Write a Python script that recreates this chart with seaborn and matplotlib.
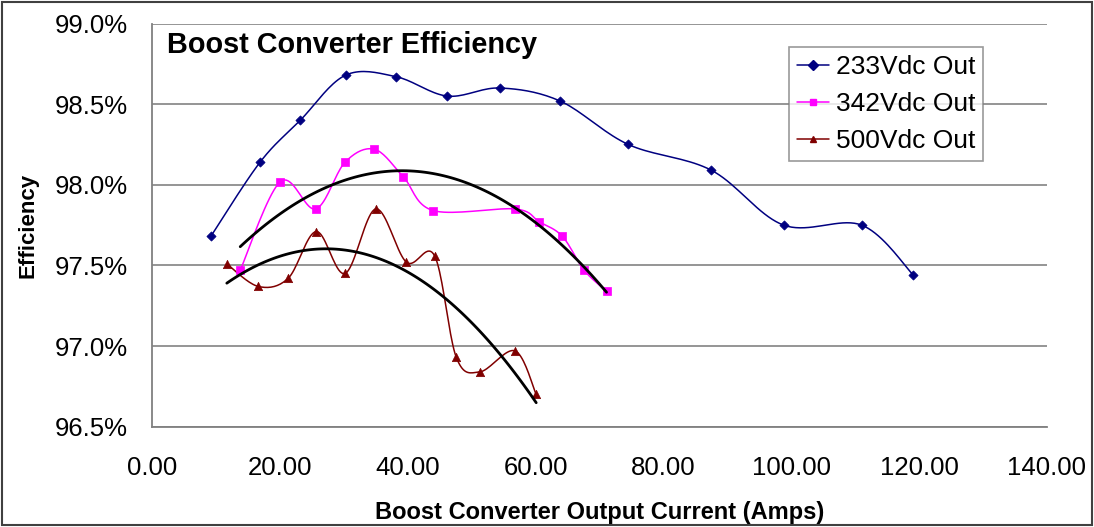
import numpy as np
import pandas as pd
import matplotlib
matplotlib.use("Agg")
import matplotlib.pyplot as plt
import seaborn as sns
from matplotlib.lines import Line2D
from matplotlib.patches import Rectangle

# values
amps_233 = [9.2, 16.9, 23.2, 30.3, 38.2, 46.2, 54.4, 63.8, 74.5, 87.5, 98.8, 111.0, 119.1]
eff_233 = [97.68, 98.14, 98.40, 98.68, 98.67, 98.55, 98.60, 98.52, 98.25, 98.09, 97.75, 97.75, 97.44]

amps_342 = [13.8, 20.1, 25.6, 30.2, 34.8, 39.3, 44.0, 56.8, 60.6, 64.2, 67.6, 71.1]
eff_342 = [97.47, 98.02, 97.85, 98.14, 98.22, 98.05, 97.84, 97.85, 97.77, 97.68, 97.47, 97.34]

amps_500 = [11.7, 16.6, 21.3, 25.7, 30.2, 35.0, 39.8, 44.2, 47.6, 51.3, 56.8, 60.1]
eff_500 = [97.51, 97.37, 97.42, 97.71, 97.45, 97.85, 97.52, 97.56, 96.93, 96.84, 96.97, 96.70]

labels = ["233Vdc Out", "342Vdc Out", "500Vdc Out"]
colors = ["#000080", "#FF00FF", "#800000"]
markers = ["D", "s", "^"]
msizes = [22, 28, 36]


def smooth(x, y, n=20):
    # excel-like smoothed line (cardinal bezier through the points)
    x = np.asarray(x, float)
    y = np.asarray(y, float)
    P = np.column_stack([x, y])
    out = []
    for i in range(len(P) - 1):
        p0 = P[i - 1] if i > 0 else P[i]
        p1 = P[i]
        p2 = P[i + 1]
        p3 = P[i + 2] if i + 2 < len(P) else P[i + 1]
        c1 = p1 + (p2 - p0) / 6
        c2 = p2 - (p3 - p1) / 6
        t = np.linspace(0, 1, n)[:, None]
        seg = (1 - t) ** 3 * p1 + 3 * (1 - t) ** 2 * t * c1 + 3 * (1 - t) * t ** 2 * c2 + t ** 3 * p2
        out.append(seg if i == 0 else seg[1:])
    s = np.vstack(out)
    return s[:, 0], s[:, 1]


sns.set_style("white")
plt.rcParams['font.family'] = ['Liberation Sans', 'DejaVu Sans']
plt.rcParams['text.color'] = 'black'
plt.rcParams['axes.labelcolor'] = 'black'
plt.rcParams['xtick.labelcolor'] = 'black'
plt.rcParams['ytick.labelcolor'] = 'black'

fig = plt.figure(figsize=(10.94, 5.27), dpi=100)
ax = fig.add_axes([152 / 1094, 1 - 426.7 / 527, (1047 - 152) / 1094, (426.7 - 23.5) / 527])

series = [(amps_233, eff_233), (amps_342, eff_342), (amps_500, eff_500)]
for (xs, ys), lab, col, mk, ms in zip(series, labels, colors, markers, msizes):
    sx, sy = smooth(xs, ys)
    sm = pd.DataFrame({"x": sx, "y": sy})
    sns.lineplot(data=sm, x="x", y="y", sort=False, estimator=None, color=col, lw=1.1, ax=ax)
    pts = pd.DataFrame({"x": xs, "y": ys})
    sns.scatterplot(data=pts, x="x", y="y", marker=mk, s=ms, color=col, edgecolor=col, linewidth=0.5, ax=ax, zorder=3)

# 2nd order polynomial trendlines
for xs, ys in [(amps_342, eff_342), (amps_500, eff_500)]:
    c = np.polyfit(xs, ys, 2)
    tx = np.linspace(min(xs), max(xs), 100)
    tr = pd.DataFrame({"x": tx, "y": np.polyval(c, tx)})
    sns.lineplot(data=tr, x="x", y="y", color="black", lw=2, ax=ax, zorder=4)

ax.set_xlim(0, 140)
ax.set_ylim(96.5, 99.0)
ax.set_xticks(np.arange(0, 141, 20))
ax.set_xticklabels([f"{v:.2f}" for v in np.arange(0, 141, 20)])
yt = np.arange(96.5, 99.01, 0.5)
ax.set_yticks(yt)
ax.set_yticklabels([f"{v:.1f}%" for v in yt])
ax.tick_params(axis="both", labelsize=18.5, direction="out", width=1.2, color="#808080")
ax.tick_params(axis="y", length=7.2, pad=10)
ax.tick_params(axis="x", length=6, pad=15)
ax.yaxis.grid(True, color="#8c8c8c", lw=1.3)
ax.xaxis.grid(False)
for side in ["top", "right"]:
    ax.spines[side].set_visible(False)
for side in ["left", "bottom"]:
    ax.spines[side].set_color("#808080")
    ax.spines[side].set_linewidth(1.3)

ax.set_xlabel("Boost Converter Output Current (Amps)", fontsize=17, fontweight="bold", labelpad=15)
ax.set_ylabel("Efficiency", fontsize=16, fontweight="bold", labelpad=12)
ax.text(15 / 895, (426.7 - 53.3) / 403.2, "Boost Converter Efficiency", transform=ax.transAxes, fontsize=20.8,
        fontweight="bold", va="baseline", ha="left")

handles = [Line2D([], [], color=c, marker=m, markersize=5, lw=1.1) for c, m in zip(colors, markers)]
leg = ax.legend(handles, labels, loc="upper left", bbox_to_anchor=((789 - 152) / 895, 1 - (47 - 23.5) / 403.2),
                fontsize=19, frameon=True, fancybox=False, edgecolor="#808080", handlelength=1.2,
                handletextpad=0.27, borderpad=0.3, labelspacing=0.5, borderaxespad=0)
leg.get_frame().set_linewidth(1.2)

fig.patches.append(Rectangle((0.002, 0.003), 0.996, 0.994, transform=fig.transFigure, fill=False,
                             edgecolor="#404040", lw=1.5))

fig.savefig("out.png", dpi=100)
